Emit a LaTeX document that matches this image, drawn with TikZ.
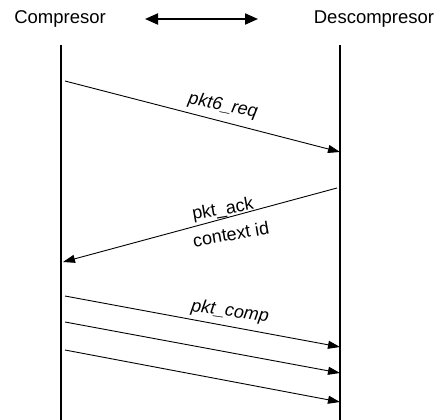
\documentclass[tikz,border=0pt]{standalone}
\usepackage{fontspec}
\setmainfont{Liberation Sans}
\usetikzlibrary{arrows.meta}
\begin{document}
\begin{tikzpicture}[x=1pt,y=-1pt,
  title/.style={font=\fontsize{18.5}{22}\selectfont, inner sep=0pt},
  msglabel/.style={font=\fontsize{18}{21}\selectfont\itshape, inner sep=0pt},
  plainlabel/.style={font=\fontsize{18}{21}\selectfont, inner sep=0pt},
  lifeline/.style={line width=2pt},
  msg/.style={line width=0.9pt, -{Triangle[length=12pt,width=8pt]}},
  both/.style={line width=2pt, {Triangle[length=13pt,width=11pt]}-{Triangle[length=13pt,width=11pt]}}]
\useasboundingbox (0,0) rectangle (440,420);
\node[title] (c) at (60,19) {Compresor};
\node[title] (d) at (374,19) {Descompresor};
\coordinate (da1) at (145,19);
\coordinate (da2) at (258,19);
\draw[both] (da1) -- (da2);
\coordinate (lt) at (61,45);
\coordinate (lb) at (61,421);
\coordinate (rt) at (340,45);
\coordinate (rb) at (340,421);
\draw[lifeline] (lt) -- (lb);
\draw[lifeline] (rt) -- (rb);
% message 1
\coordinate (m1s) at (65,81);
\coordinate (m1e) at (340,152);
\draw[msg] (m1s) -- (m1e);
\node[msglabel, rotate=-11] (l1) at (223,106) {pkt6\_req};
% message 2
\coordinate (m2s) at (337,188);
\coordinate (m2e) at (63,262);
\draw[msg] (m2s) -- (m2e);
\node[plainlabel, rotate=10] (l2a) at (223,210) {pkt\_ack};
\node[plainlabel, rotate=10] (l2b) at (231,234) {context id};
% messages 3-5
\coordinate (m3s) at (65,296);
\coordinate (m3e) at (340,347);
\coordinate (m4s) at (65,322);
\coordinate (m4e) at (340,373);
\coordinate (m5s) at (65,350);
\coordinate (m5e) at (340,402);
\draw[msg] (m3s) -- (m3e);
\draw[msg] (m4s) -- (m4e);
\draw[msg] (m5s) -- (m5e);
\node[msglabel, rotate=-8] (l3) at (230,312) {pkt\_comp};
\end{tikzpicture}
\end{document}
